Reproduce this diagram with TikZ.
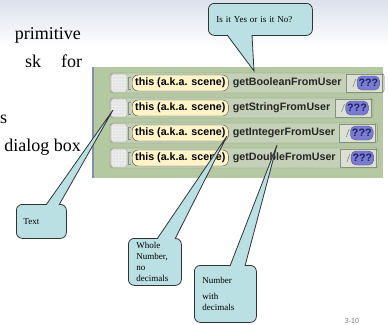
\documentclass[tikz,border=0pt]{standalone}
\usepackage{fontspec}
\setmainfont{Liberation Serif}
\setsansfont{Liberation Sans}
\usetikzlibrary{positioning, calc, backgrounds, patterns}

\definecolor{panelgreen}{RGB}{180,200,162}
\definecolor{blockgreen}{RGB}{196,209,184}
\definecolor{blockline}{RGB}{135,145,128}
\definecolor{parmgreen}{RGB}{218,225,210}
\definecolor{thisyellow}{RGB}{255,244,200}
\definecolor{askpurple}{RGB}{122,122,206}
\definecolor{asknavy}{RGB}{28,28,105}
\definecolor{tipcyan}{RGB}{186,224,228}
\definecolor{skyedge}{RGB}{220,225,236}
\definecolor{panelrule}{RGB}{130,145,170}

\begin{document}
\begin{tikzpicture}[
    x=1pt, y=-1pt,
    slidetext/.style ={font=\fontsize{18}{27}\selectfont, inner sep=0pt},
    thispill/.style  ={draw=black!70, fill=thisyellow, rounded corners=6pt,
                       minimum height=16pt, inner xsep=3pt, inner ysep=0pt,
                       font=\sffamily\bfseries\fontsize{10.7}{12}\selectfont,
                       anchor=west},
    methname/.style  ={font=\sffamily\bfseries\fontsize{10.7}{12}\selectfont,
                       text=black!85, inner sep=0pt},
    parmbox/.style   ={draw=blockline, fill=parmgreen, minimum width=36pt,
                       minimum height=18pt, inner sep=0pt},
    askpill/.style   ={draw=askpurple!70!black, fill=askpurple, rounded corners=5pt,
                       minimum height=14pt, inner xsep=1.5pt, inner ysep=0pt,
                       text=asknavy, anchor=west,
                       font=\sffamily\bfseries\fontsize{10.7}{12}\selectfont},
    blockbody/.style ={draw=blockline, fill=blockgreen, rounded corners=3pt},
    notch/.style     ={draw=blockline!80, fill=black!8, rounded corners=2pt},
    callbox/.style   ={draw=black!80, fill=tipcyan, line width=0.8pt,
                       rounded corners=6pt, anchor=north west, align=left,
                       inner xsep=8pt, inner ysep=0pt,
                       font=\fontsize{9}{11}\selectfont},
    wedge/.style     ={draw=black!80, fill=tipcyan, line width=0.8pt}
]
\useasboundingbox (0,0) rectangle (388,324);

% slide background and the block panel
\begin{scope}[on background layer]
  \shade[top color=skyedge, bottom color=white] (0,0) rectangle (388,48);
  \fill[panelgreen] (92,67) rectangle (383,178);
  \draw[panelrule, line width=2pt] (93,67) -- (93,178);
\end{scope}

% slide text (left edge cut off)
\node[slidetext, anchor=base east] (ln1) at (81,39)  {primitive};
\node[slidetext, anchor=base west, text width=57pt] (ln2) at (25,67) {sk\hfill for};
\node[slidetext, anchor=base west] (ln4) at (0,123)  {s};
\node[slidetext, anchor=base east] (ln5) at (81,151) {dialog box};

% the four method blocks
\foreach \y/\meth [count=\i] in {83/getBooleanFromUser, 108/getStringFromUser,
                                133/getIntegerFromUser, 158/getDoubleFromUser}{
  \fill[black!8, rounded corners=2pt] (111,\y-9) rectangle (127,\y+9);
  \draw[notch, pattern=dots, pattern color=black!30] (111,\y-9) rectangle (127,\y+9);
  \draw[blockline] (131,\y-6) -- (128,\y-6) -- (128,\y+6) -- (131,\y+6);
  \node[thispill] (this\i) at (132,\y) {this (a.k.a. scene)};
  \node[methname, right=4pt of this\i] (m\i) {\meth};
  \node[parmbox, right=4pt of m\i] (p\i) {};
  \node[askpill] (q\i) at ([xshift=11pt]p\i.west) {???};
  \draw[black!60] ([xshift=7pt,yshift=-4pt]p\i.west) -- ([xshift=10pt,yshift=4pt]p\i.west);
  \begin{scope}[on background layer]
    \draw[blockbody] (110,\y-10) rectangle ($(p\i.east)+(2,10)$);
  \end{scope}
}

% where the callouts point
\coordinate (booltip) at (254,71);
\coordinate (texttip) at (113,110);
\coordinate (inttip)  at (227,136);
\coordinate (dbltip)  at (277,145);

% callouts
\node[callbox, minimum height=32pt, text width=88pt] (yesno) at (208,3)
    {Is it Yes or is it No?};
\draw[wedge] ([xshift=19pt,yshift=1pt]yesno.south west) -- (booltip)
          -- ([xshift=44pt,yshift=1pt]yesno.south west);

\node[callbox, minimum height=34pt, text width=36pt, inner xsep=7pt] (txt) at (16,204)
    {Text};
\draw[wedge] ([xshift=30pt,yshift=-1pt]txt.north west) -- (texttip)
          -- ([xshift=43pt,yshift=-1pt]txt.north west);

\node[callbox, minimum height=47pt, text width=37pt] (whole) at (128,238)
    {Whole\\Number,\\no\\decimals};
\draw[wedge] ([xshift=29pt,yshift=-1pt]whole.north west) -- (inttip)
          -- ([xshift=47pt,yshift=-1pt]whole.north west);

\node[callbox, minimum height=57pt, text width=46pt] (dbl) at (194,265)
    {Number\\[5pt]with\\decimals};
\draw[wedge] ([xshift=36pt,yshift=-1pt]dbl.north west) -- (dbltip)
          -- ([xshift=51pt,yshift=-1pt]dbl.north west);

% page number
\node[font=\sffamily\fontsize{7}{8}\selectfont, text=black!55, anchor=base]
    (pageno) at (352,323) {3-10};

\end{tikzpicture}
\end{document}
